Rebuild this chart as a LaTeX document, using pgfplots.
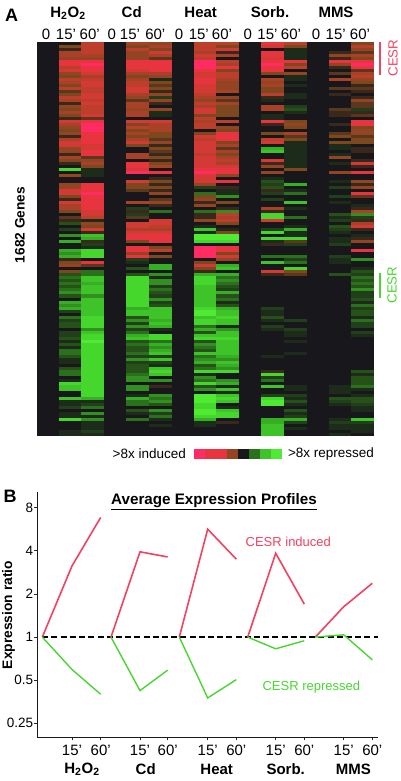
\documentclass[border=0pt]{standalone}
\usepackage{pgfplots}
\usepackage{pgfplotstable}
\pgfplotsset{compat=1.18}
\usepackage{fontspec}
\setmainfont{Liberation Sans}
\definecolor{cesrred}{RGB}{242,66,96}
\definecolor{cesrgreen}{RGB}{72,214,48}
\pgfdeclareplotmark{cell}{\pgfpathrectangle{\pgfpoint{-11.4pt}{-1.65pt}}{\pgfpoint{22.8pt}{3.3pt}}\pgfusepathqfill}
\pgfdeclareplotmark{lcell}{\pgfpathrectangle{\pgfpoint{-5.7pt}{-5pt}}{\pgfpoint{11.4pt}{10pt}}\pgfusepathqfill}
\pgfplotsset{colormap={cesr}{
 rgb255(-9)=(78,235,50) rgb255(-6)=(54,175,36) rgb255(-3)=(38,82,26) rgb255(0)=(24,24,28)
 rgb255(3)=(125,72,30) rgb255(6)=(190,62,44) rgb255(8)=(232,52,62) rgb255(9)=(255,44,100)}}
\pgfplotstableread{
a b c d e f g h i j
0 6 5 4 6 6 8 6 0 3
3 6 3 5 6 3 7 3 0 6
1 6 6 3 6 7 0 -1 0 4
5 6 4 7 5 1 8 -1 1 2
5 5 4 5 7 5 8 -1 4 5
4 4 4 2 6 0 7 -1 1 3
8 8 8 8 9 6 8 8 8 8
8 9 8 8 9 5 9 3 4 9
6 8 8 8 9 8 8 6 1 8
7 8 7 8 8 3 8 0 0 2
4 7 5 5 7 6 3 4 2 5
3 5 3 4 7 6 0 -1 0 6
6 6 5 -1 8 5 5 -1 5 4
5 7 6 3 8 4 4 0 0 3
3 7 6 2 7 4 5 -1 0 1
6 6 7 3 7 4 3 0 2 2
2 6 7 1 7 5 3 0 0 1
3 7 5 4 6 0 6 -1 1 0
6 7 4 -2 5 4 1 -1 0 1
5 6 2 4 4 2 -1 0 0 4
1 7 5 1 6 5 0 0 0 2
4 6 5 0 5 3 5 -2 0 2
3 6 4 4 7 3 5 -3 2 -2
5 6 5 -1 7 3 0 -1 1 1
3 7 5 -1 3 3 -1 0 1 2
1 2 0 0 6 0 -1 0 0 0
7 8 7 7 5 6 8 3 0 8
5 9 3 5 6 0 1 4 1 8
4 9 6 5 6 4 0 3 0 3
3 9 3 5 0 3 0 0 0 4
4 8 5 3 3 8 3 5 2 4
1 8 3 3 7 8 0 2 3 2
5 8 5 2 6 8 6 3 0 3
7 8 7 4 7 3 7 -1 3 3
7 7 3 1 7 5 0 -1 -1 0
4 7 0 3 7 2 -6 -1 -1 1
4 8 0 2 7 5 -7 -1 0 1
1 8 5 1 6 3 0 -1 -1 0
5 2 5 3 7 5 0 -1 4 0
3 4 0 1 7 6 7 -1 0 1
1 5 8 3 7 5 1 -1 -1 7
0 3 8 5 7 7 4 -1 0 1
-8 -1 7 0 8 8 0 3 0 0
0 -1 9 8 9 8 4 0 4 8
4 -1 0 0 7 4 0 0 0 0
0 0 0 1 7 0 -1 0 0 0
0 0 7 3 7 8 -3 0 -1 4
4 8 3 1 4 0 -2 -6 0 1
4 8 3 3 -2 1 -3 0 -2 4
7 8 2 1 0 -1 1 -1 0 0
7 9 0 4 -4 -1 -2 -4 0 8
3 8 0 0 3 -5 0 0 -2 2
1 8 0 2 4 0 -2 0 0 0
7 8 5 4 1 3 0 -7 -1 0
5 8 0 1 4 0 0 0 0 -1
5 8 -2 0 0 1 5 -1 0 1
3 7 1 -4 -4 -5 1 0 0 5
0 7 -2 0 1 6 -8 0 -3 -5
2 6 2 0 1 5 -8 -4 -1 -2
1 -1 0 7 4 6 7 0 -2 1
-3 4 7 7 0 3 0 0 0 5
0 3 7 6 -1 0 0 -1 -3 7
-2 7 5 5 -7 -1 -2 -6 -2 1
0 1 7 7 -1 3 -8 -1 -1 0
-5 -7 8 8 -9 -9 0 -1 0 -1
0 -6 8 8 -9 -9 -8 -8 -1 1
-6 1 3 8 -8 -8 -1 2 -1 4
0 -2 0 0 0 0 1 -2 -2 0
0 -1 8 3 9 8 0 0 0 0
-6 -8 8 6 9 8 0 0 0 8
-5 -8 4 0 9 3 0 0 0 0
-6 -8 8 3 9 7 -4 -4 -2 0
1 0 -2 0 0 4 0 -2 -1 -5
3 8 -1 0 3 0 -7 -4 -1 0
4 2 0 -6 7 -6 0 0 0 0
0 0 -3 -6 3 -7 0 -8 0 -1
3 -4 0 0 1 0 7 3 0 -3
-3 -4 -3 -5 -6 -6 1 2 -3 -2
-4 -7 -8 -1 -8 -4 0 0 0 -4
-3 -7 -8 -5 -8 -5 0 0 0 -3
-4 -6 -8 -5 -8 -4 0 0 0 -4
-3 -7 -8 -2 -7 -3 0 0 0 -3
-4 -7 -8 -4 -7 -2 0 0 0 -5
-5 -7 -8 -3 -7 -6 0 0 0 -2
-3 -5 -8 -2 -7 -3 0 0 0 -2
0 -7 -8 -5 -7 -4 0 0 0 -3
-6 -7 -8 -2 -7 -1 0 0 0 -1
-5 -7 -8 -3 -7 -3 0 0 0 -4
-6 -7 -6 -7 -8 -6 -2 0 0 -2
-2 -7 -7 -7 -9 -7 -1 0 0 -3
0 -7 -7 -7 -9 -7 -1 0 0 -3
-4 -8 -3 -7 -7 -8 -3 0 0 -1
-2 -8 -5 -6 -8 -7 -1 -2 0 -4
-3 -8 -2 -7 -8 -7 0 0 0 -2
-3 -8 -5 -6 -4 -1 -2 0 0 -2
0 -5 -2 -1 -6 -5 -1 -2 0 0
-2 -7 -4 0 -3 -7 0 -1 0 -2
-2 -8 -6 -8 -7 -7 0 -1 0 -1
-3 -8 -7 -8 -8 -8 0 0 0 0
-1 -9 -3 -4 -3 -7 0 -1 0 0
-3 -8 -4 -6 -5 -7 0 0 0 0
-1 -8 -3 -5 -4 -7 0 0 0 0
-4 -8 -3 -6 -3 -7 0 0 0 0
-4 -8 -4 -7 -7 -7 0 -1 0 0
-3 -8 -2 -2 -4 -6 -1 0 0 0
-1 -8 -5 -7 -5 -5 0 0 0 0
-1 -8 -2 -2 -6 -7 0 0 0 0
0 -8 -3 -1 -3 -6 0 0 0 0
-3 -8 -3 -7 -4 -5 0 0 0 0
-4 -8 -3 -8 -8 -8 1 0 0 -3
-4 -8 -4 -7 -1 0 -8 0 0 -1
0 -8 -5 0 -5 0 -2 0 0 -3
-1 -8 -5 -5 -4 -5 -4 0 0 -3
-8 -8 0 0 -8 -6 0 0 0 -3
-7 -8 -5 1 -3 -1 -7 -1 -1 -4
-7 -8 -5 0 -5 -7 0 -1 -1 -1
0 -8 0 0 0 -1 0 0 -1 0
0 -8 -1 -5 -9 -7 -2 -2 0 -1
-7 -6 -6 -4 -9 -8 -8 -1 -3 -3
-1 -1 -4 -5 -9 -7 -9 -3 -2 -3
-1 -2 -4 -3 -8 0 -9 -1 -1 -2
-2 -4 0 0 -8 -1 0 0 0 -1
0 0 -3 -5 -9 -7 0 -3 0 -1
-1 -5 -1 -2 -9 -8 0 -1 0 0
-1 -1 0 -4 -8 -8 0 -2 0 0
-8 -5 -4 -1 -6 0 -6 -6 -1 -7
0 -1 0 0 -1 1 -6 -2 -2 -2
0 -1 0 -1 -1 0 -7 0 -1 -1
0 -1 0 0 0 0 -7 -1 -1 -1
-1 -2 0 0 0 0 -7 0 0 -1
-1 -1 0 0 0 0 -7 0 -1 0
}\heat
\pgfplotstableread{
x v
0.5 9
1.5 8
2.5 8
3.5 4
4.5 0
5.5 -4
6.5 -7
7.5 -9
}\scale
\newcommand{\lab}[4][]{\node[inner sep=0pt,#1] at (#2pt,-#3pt) {#4};}
\newcommand{\col}[2]{\addplot[scatter,only marks,mark=cell,point meta=\thisrow{#2}] table[x expr=#1,y expr=130.5-\coordindex] {\heat};}
\begin{document}
\begin{tikzpicture}
\useasboundingbox (0,0) rectangle (400pt,-781pt);
\begin{axis}[at={(36.5pt,-436pt)},anchor=south west,scale only axis,width=337pt,height=394pt,
 xmin=36.5,xmax=373.5,ymin=0,ymax=131,colormap name=cesr,point meta min=-9,point meta max=9,
 axis background/.style={fill={rgb,255:red,24;green,24;blue,28}},axis line style={draw=none},
 ytick=\empty,major tick length=0pt,xticklabel pos=top,
 xtick={46,66,89.7,111.7,130,155.3,179,198.8,222,247.7,267.5,291,316,335.7,360},
 xticklabels={0,15',60',0,15',60',0,15',60',0,15',60',0,15',60'},
 xticklabel style={font=\fontsize{15}{15}\selectfont,inner sep=0pt,yshift=2pt}]
\col{70.25}{a}\col{92.75}{b}\col{137.75}{c}\col{160.25}{d}\col{205}{e}
\col{227.5}{f}\col{272.75}{g}\col{295.25}{h}\col{340.5}{i}\col{362.75}{j}
\end{axis}
\begin{axis}[at={(193.7pt,-459pt)},anchor=south west,scale only axis,width=88pt,height=10pt,
 xmin=0,xmax=8,ymin=0,ymax=1,colormap name=cesr,point meta min=-9,point meta max=9,
 axis line style={draw=none},xtick=\empty,ytick=\empty]
\addplot[scatter,only marks,mark=lcell,point meta=\thisrow{v}] table[x=x,y expr=0.5] {\scale};
\end{axis}
\begin{axis}[at={(37.3pt,-737.3pt)},anchor=south west,scale only axis,width=340.4pt,height=245.5pt,
 xmin=37.3,xmax=377.7,ymode=log,log basis y=2,ymin=0.1997,ymax=10.34,
 axis lines=left,axis line style={-,line width=1.2pt,black!90},
 xtick={72,100.7,140,167.7,207.7,236.3,275.7,304.3,343.7,372.3},
 xticklabels={15',60',15',60',15',60',15',60',15',60'},
 ytick={0.25,0.5,1,2,4,8},yticklabels={0.25,0.5,1,2,4,8},minor tick length=0pt,
 tick align=outside,major tick length=3pt,tick style={black!85,line width=0.8pt},
 xticklabel style={font=\fontsize{15}{15}\selectfont,yshift=-1pt},
 yticklabel style={font=\fontsize{13.5}{14}\selectfont,inner sep=1pt},clip=false]
\addplot[black,line width=1.3pt,dash pattern=on 6pt off 3.2pt] coordinates {(42.3,1) (377.7,1)};
\addplot[cesrred,line width=1.6pt] coordinates {(42.3,1) (72,3.14) (100.7,6.85)};
\addplot[cesrred,line width=1.6pt] coordinates {(111,1) (140,3.94) (167.7,3.63)};
\addplot[cesrred,line width=1.6pt] coordinates {(179.3,1) (207.7,5.67) (236.3,3.5)};
\addplot[cesrred,line width=1.6pt] coordinates {(247.7,1) (275.7,3.85) (304.3,1.70)};
\addplot[cesrred,line width=1.6pt] coordinates {(315.3,1) (343.7,1.63) (372.3,2.375)};
\addplot[cesrgreen,line width=1.4pt] coordinates {(42.3,1) (72,0.594) (100.7,0.399)};
\addplot[cesrgreen,line width=1.4pt] coordinates {(111,1) (140,0.423) (167.7,0.588)};
\addplot[cesrgreen,line width=1.4pt] coordinates {(179.3,1) (207.7,0.376) (236.3,0.505)};
\addplot[cesrgreen,line width=1.4pt] coordinates {(247.7,1) (275.7,0.829) (304.3,0.943)};
\addplot[cesrgreen,line width=1.4pt] coordinates {(315.3,1) (343.7,1.038) (372.3,0.694)};
\end{axis}
\lab{11.7}{15}{\fontsize{18}{18}\selectfont\bfseries A}
\lab{10}{496.7}{\fontsize{18}{18}\selectfont\bfseries B}
\lab{68}{13}{\fontsize{15}{15}\selectfont\bfseries H\textsubscript{2}O\textsubscript{2}}
\lab{131.7}{12.5}{\fontsize{15}{15}\selectfont\bfseries Cd}
\lab{200.7}{12.5}{\fontsize{15}{15}\selectfont\bfseries Heat}
\lab{270}{12.5}{\fontsize{15}{15}\selectfont\bfseries Sorb.}
\lab{336}{12.5}{\fontsize{15}{15}\selectfont\bfseries MMS}
\lab[rotate=90]{20}{225}{\fontsize{13.7}{14}\selectfont\bfseries 1682 Genes}
\draw[cesrred,line width=1.8pt] (380pt,-42pt) -- (380pt,-75pt);
\draw[cesrgreen,line width=1.8pt] (380pt,-272.7pt) -- (380pt,-298pt);
\lab[rotate=90,text=cesrred]{393}{58}{\fontsize{13.3}{14}\selectfont CESR}
\lab[rotate=90,text=cesrgreen]{392}{285}{\fontsize{13.3}{14}\selectfont CESR}
\lab{149.3}{454}{\fontsize{13.5}{14}\selectfont >8x induced}
\lab{331}{454}{\fontsize{13.5}{14}\selectfont >8x repressed}
\lab{214}{500.7}{\fontsize{15.2}{16}\selectfont\bfseries Average Expression Profiles}
\draw[black,line width=0.9pt] (111pt,-509pt) -- (317pt,-509pt);
\lab[rotate=90]{8.5}{615}{\fontsize{13.8}{14}\selectfont\bfseries Expression ratio}
\lab[text=cesrred]{288.3}{542}{\fontsize{13}{14}\selectfont CESR induced}
\lab[text=cesrgreen]{311.3}{686.7}{\fontsize{13}{14}\selectfont CESR repressed}
\lab{82}{769}{\fontsize{15}{15}\selectfont\bfseries H\textsubscript{2}O\textsubscript{2}}
\lab{145.7}{769}{\fontsize{15}{15}\selectfont\bfseries Cd}
\lab{216.7}{769}{\fontsize{15}{15}\selectfont\bfseries Heat}
\lab{285.7}{769}{\fontsize{15}{15}\selectfont\bfseries Sorb.}
\lab{353.3}{769}{\fontsize{15}{15}\selectfont\bfseries MMS}
\end{tikzpicture}
\end{document}
